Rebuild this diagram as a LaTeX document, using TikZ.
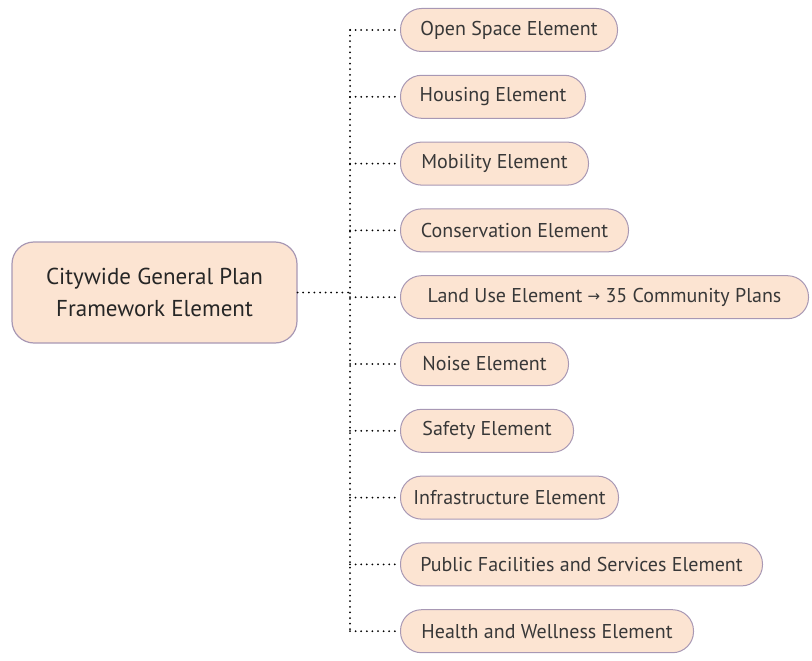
\documentclass[tikz,border=0pt]{standalone}
\usepackage{fontspec}
\setmainfont{PT Sans}
\newfontfamily\arrowfont{DejaVu Sans}
\usetikzlibrary{positioning}
\definecolor{peach}{HTML}{FCE4D2}
\definecolor{lilacline}{HTML}{A898B4}
\definecolor{inkgray}{HTML}{383838}
\tikzset{
  x=1pt, y=-1pt,
  elem/.style={rectangle, rounded corners=21pt, draw=lilacline, line width=1pt, fill=peach, minimum height=43pt, inner xsep=10pt, text=inkgray, font=\fontsize{20}{22}\selectfont, anchor=west},
  hub/.style={rectangle, rounded corners=22pt, draw=lilacline, line width=1.2pt, fill=peach, minimum width=285pt, minimum height=101pt, text=black!85, font=\fontsize{23}{32}\selectfont, align=center},
  dotline/.style={line width=2pt, line cap=round, dash pattern=on 0pt off 5.6pt}
}
\newcommand{\toarr}{{\arrowfont\fontsize{15}{15}\selectfont\raisebox{0.5pt}{→}}}
\begin{document}
\begin{tikzpicture}
  \useasboundingbox (0,0) rectangle (812,661);

  \node[hub] (plan) at (154.5,292.5) {Citywide General Plan\\Framework Element};
  \coordinate (trunk) at (350,292.5);

  \foreach \t/\w [count=\i] in {Open Space Element/217, Housing Element/185, Mobility Element/188,
      Conservation Element/228, Land Use Element \toarr{} 35 Community Plans/408, Noise Element/168,
      Safety Element/173, Infrastructure Element/218, Public Facilities and Services Element/362,
      Health and Wellness Element/293}
    \node[elem, minimum width=\w pt] (e\i) at (400,{30+(\i-1)*66.8}) {\t};

  % dotted tree
  \draw[dotline] (plan.east) -- (trunk);
  \draw[dotline] (trunk |- e1.west) -- (trunk |- e10.west);
  \foreach \i in {1,...,10}
    \draw[dotline] (trunk |- e\i.west) -- (e\i.west);
\end{tikzpicture}
\end{document}
